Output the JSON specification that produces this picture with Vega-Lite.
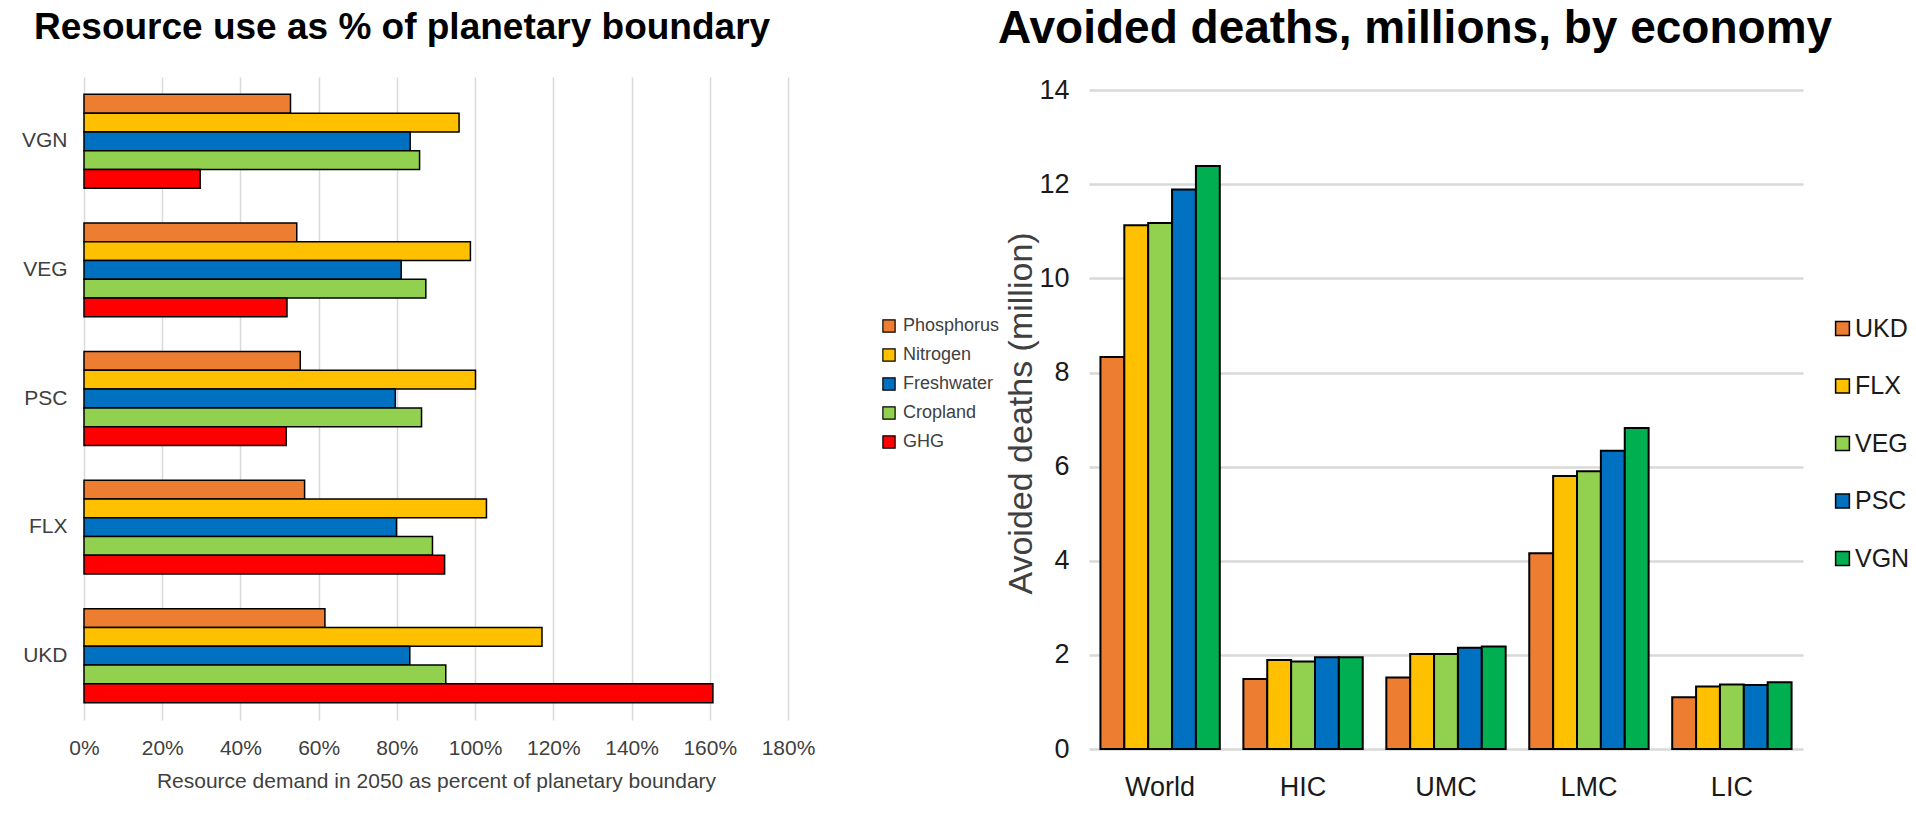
{
  "$schema": "https://vega.github.io/schema/vega-lite/v6.json",
  "background": "white",
  "padding": {"left": 21, "top": 6, "right": 2, "bottom": 5},
  "config": {
    "view": {"stroke": null},
    "font": "Liberation Sans, Arial, sans-serif"
  },
  "datasets": {
    "resources": [
      {"Diet": "VGN", "Resource": "Phosphorus", "Pct": 52.8},
      {"Diet": "VGN", "Resource": "Nitrogen", "Pct": 95.9},
      {"Diet": "VGN", "Resource": "Freshwater", "Pct": 83.4},
      {"Diet": "VGN", "Resource": "Cropland", "Pct": 85.8},
      {"Diet": "VGN", "Resource": "GHG", "Pct": 29.7},
      {"Diet": "VEG", "Resource": "Phosphorus", "Pct": 54.4},
      {"Diet": "VEG", "Resource": "Nitrogen", "Pct": 98.8},
      {"Diet": "VEG", "Resource": "Freshwater", "Pct": 81.1},
      {"Diet": "VEG", "Resource": "Cropland", "Pct": 87.4},
      {"Diet": "VEG", "Resource": "GHG", "Pct": 51.9},
      {"Diet": "PSC", "Resource": "Phosphorus", "Pct": 55.3},
      {"Diet": "PSC", "Resource": "Nitrogen", "Pct": 100.1},
      {"Diet": "PSC", "Resource": "Freshwater", "Pct": 79.6},
      {"Diet": "PSC", "Resource": "Cropland", "Pct": 86.3},
      {"Diet": "PSC", "Resource": "GHG", "Pct": 51.7},
      {"Diet": "FLX", "Resource": "Phosphorus", "Pct": 56.4},
      {"Diet": "FLX", "Resource": "Nitrogen", "Pct": 102.9},
      {"Diet": "FLX", "Resource": "Freshwater", "Pct": 79.9},
      {"Diet": "FLX", "Resource": "Cropland", "Pct": 89.1},
      {"Diet": "FLX", "Resource": "GHG", "Pct": 92.2},
      {"Diet": "UKD", "Resource": "Phosphorus", "Pct": 61.6},
      {"Diet": "UKD", "Resource": "Nitrogen", "Pct": 117.1},
      {"Diet": "UKD", "Resource": "Freshwater", "Pct": 83.3},
      {"Diet": "UKD", "Resource": "Cropland", "Pct": 92.5},
      {"Diet": "UKD", "Resource": "GHG", "Pct": 160.8}
    ],
    "deaths": [
      {"Economy": "World", "Diet": "UKD", "Deaths": 8.33},
      {"Economy": "World", "Diet": "FLX", "Deaths": 11.13},
      {"Economy": "World", "Diet": "VEG", "Deaths": 11.18},
      {"Economy": "World", "Diet": "PSC", "Deaths": 11.89},
      {"Economy": "World", "Diet": "VGN", "Deaths": 12.39},
      {"Economy": "HIC", "Diet": "UKD", "Deaths": 1.49},
      {"Economy": "HIC", "Diet": "FLX", "Deaths": 1.89},
      {"Economy": "HIC", "Diet": "VEG", "Deaths": 1.86},
      {"Economy": "HIC", "Diet": "PSC", "Deaths": 1.95},
      {"Economy": "HIC", "Diet": "VGN", "Deaths": 1.95},
      {"Economy": "UMC", "Diet": "UKD", "Deaths": 1.52},
      {"Economy": "UMC", "Diet": "FLX", "Deaths": 2.02},
      {"Economy": "UMC", "Diet": "VEG", "Deaths": 2.02},
      {"Economy": "UMC", "Diet": "PSC", "Deaths": 2.15},
      {"Economy": "UMC", "Diet": "VGN", "Deaths": 2.18},
      {"Economy": "LMC", "Diet": "UKD", "Deaths": 4.16},
      {"Economy": "LMC", "Diet": "FLX", "Deaths": 5.8},
      {"Economy": "LMC", "Diet": "VEG", "Deaths": 5.9},
      {"Economy": "LMC", "Diet": "PSC", "Deaths": 6.34},
      {"Economy": "LMC", "Diet": "VGN", "Deaths": 6.82},
      {"Economy": "LIC", "Diet": "UKD", "Deaths": 1.1},
      {"Economy": "LIC", "Diet": "FLX", "Deaths": 1.33},
      {"Economy": "LIC", "Diet": "VEG", "Deaths": 1.37},
      {"Economy": "LIC", "Diet": "PSC", "Deaths": 1.36},
      {"Economy": "LIC", "Diet": "VGN", "Deaths": 1.42}
    ]
  },
  "bounds": "flush",
  "spacing": 301,
  "resolve": {"scale": {"color": "independent"}, "legend": {"color": "independent"}},
  "hconcat": [
    {
      "title": {
        "text": "Resource use as % of planetary boundary",
        "anchor": "start", "frame": "group", "dx": -50, "offset": 1,
        "baseline": "alphabetic", "font": "Liberation Sans", "fontSize": 37,
        "fontWeight": "bold", "color": "black"
      },
      "width": 704,
      "height": 643,
      "data": {"name": "resources"},
      "mark": {"type": "bar", "stroke": "black", "strokeWidth": 1.5},
      "encoding": {
        "y": {
          "field": "Diet", "type": "nominal",
          "sort": ["VGN", "VEG", "PSC", "FLX", "UKD"],
          "scale": {"paddingInner": 0.27, "paddingOuter": 0.135},
          "axis": {
            "title": null, "ticks": false, "domain": false, "grid": false,
            "labelPadding": 17, "labelFontSize": 21, "labelColor": "#404040"
          }
        },
        "yOffset": {
          "field": "Resource", "type": "nominal",
          "sort": ["Phosphorus", "Nitrogen", "Freshwater", "Cropland", "GHG"]
        },
        "x": {
          "field": "Pct", "type": "quantitative",
          "scale": {"domain": [0, 180], "nice": false},
          "axis": {
            "values": [0, 20, 40, 60, 80, 100, 120, 140, 160, 180],
            "labelExpr": "datum.value + '%'",
            "labelOverlap": false, "labelFlush": false,
            "title": "Resource demand in 2050 as percent of planetary boundary",
            "grid": true, "gridColor": "#d9d9d9", "gridWidth": 1.5,
            "domain": false, "ticks": false,
            "labelPadding": 17, "labelFontSize": 21, "labelColor": "#404040",
            "titleFontSize": 21, "titleFontWeight": "normal", "titleColor": "#404040",
            "titlePadding": 12
          }
        },
        "color": {
          "field": "Resource", "type": "nominal",
          "scale": {
            "domain": ["Phosphorus", "Nitrogen", "Freshwater", "Cropland", "GHG"],
            "range": ["#ED7D31", "#FFC000", "#0070C0", "#92D050", "#FF0000"]
          },
          "legend": {
            "title": null, "orient": "none", "legendX": 796, "legendY": 240,
            "padding": 0, "symbolType": "square", "symbolSize": 150,
            "symbolStrokeColor": "black", "symbolStrokeWidth": 1.2,
            "labelFontSize": 18, "labelColor": "#404040",
            "rowPadding": 11, "labelOffset": 5
          }
        }
      }
    },
    {
      "title": {
        "text": "Avoided deaths, millions, by economy",
        "anchor": "start", "frame": "group", "dx": -91, "offset": -13,
        "baseline": "alphabetic", "font": "Liberation Sans", "fontSize": 46,
        "fontWeight": "bold", "color": "black"
      },
      "width": 714,
      "height": 672,
      "data": {"name": "deaths"},
      "mark": {"type": "bar", "stroke": "black", "strokeWidth": 2},
      "encoding": {
        "x": {
          "field": "Economy", "type": "nominal",
          "sort": ["World", "HIC", "UMC", "LMC", "LIC"],
          "scale": {"paddingInner": 0.165, "paddingOuter": 0.08},
          "axis": {
            "title": null, "labelAngle": 0, "ticks": false, "domain": false,
            "labelPadding": 25, "labelFontSize": 27, "labelColor": "#1a1a1a"
          }
        },
        "xOffset": {
          "field": "Diet", "type": "nominal",
          "sort": ["UKD", "FLX", "VEG", "PSC", "VGN"]
        },
        "y": {
          "field": "Deaths", "type": "quantitative",
          "scale": {"domain": [0, 14.28], "nice": false},
          "axis": {
            "values": [0, 2, 4, 6, 8, 10, 12, 14],
            "labelFlush": false,
            "title": "Avoided deaths (million)",
            "titleFontSize": 34,
            "titleFontWeight": "normal", "titleColor": "#404040", "titlePadding": 0,
            "grid": true, "gridColor": "#d9d9d9", "gridWidth": 2.5,
            "domain": false, "ticks": false,
            "labelPadding": 20, "labelFontSize": 27, "labelColor": "#1a1a1a"
          }
        },
        "color": {
          "field": "Diet", "type": "nominal",
          "scale": {
            "domain": ["UKD", "FLX", "VEG", "PSC", "VGN"],
            "range": ["#ED7D31", "#FFC000", "#92D050", "#0070C0", "#00B050"]
          },
          "legend": {
            "title": null, "orient": "none", "legendX": 741, "legendY": 239,
            "padding": 0, "symbolType": "square", "symbolSize": 190,
            "symbolStrokeColor": "black", "symbolStrokeWidth": 1.5,
            "labelFontSize": 25, "labelColor": "#1a1a1a",
            "rowPadding": 31.5, "labelOffset": 0
          }
        }
      }
    }
  ]
}
